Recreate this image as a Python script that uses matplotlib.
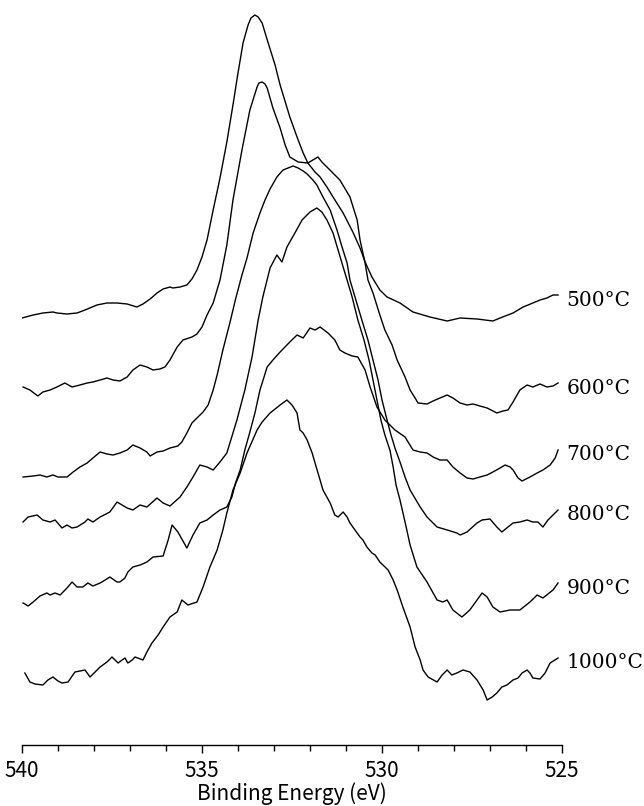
import matplotlib
matplotlib.use("Agg")
import matplotlib.pyplot as plt
from matplotlib.ticker import MultipleLocator
import matplotlib.transforms as mtransforms

# O 1s spectra after annealing, stacked (binding energy in eV, intensity in a.u.)
be_500 = [540.00, 539.69, 539.42, 539.14, 539.03, 538.75, 538.47, 538.25, 537.92, 537.64,
          537.36, 537.08, 536.81, 536.64, 536.44, 536.25, 536.08, 535.89, 535.81, 535.61,
          535.42, 535.28, 535.14, 535.00, 534.86, 534.69, 534.50, 534.31, 534.14, 534.00,
          533.86, 533.72, 533.64, 533.53, 533.44, 533.33, 533.17, 532.97, 532.83, 532.56,
          532.36, 532.19, 532.06, 531.86, 531.72, 531.53, 531.36, 531.08, 530.81, 530.61,
          530.47, 530.28, 530.06, 529.86, 529.50, 529.14, 528.67, 528.19, 527.83, 527.36,
          526.92, 526.72, 526.36, 526.08, 525.81, 525.61, 525.42, 525.25, 525.11]
int_500 = [427, 430, 432, 433, 432, 431, 432, 435, 440, 442,
           442, 441, 438, 441, 446, 452, 456, 458, 457, 458,
           460, 466, 475, 488, 505, 535, 567, 603, 640, 672,
           702, 720, 727, 730, 728, 722, 703, 680, 660, 628,
           608, 592, 582, 573, 568, 558, 548, 532, 513, 497,
           483, 468, 455, 448, 442, 433, 428, 424, 427, 426,
           424, 427, 432, 438, 442, 445, 447, 450, 450]

be_600 = [539.97, 539.78, 539.56, 539.42, 539.22, 539.03, 538.81, 538.61, 538.39, 538.19,
          538.03, 537.83, 537.64, 537.47, 537.28, 537.08, 536.92, 536.72, 536.53, 536.36,
          536.17, 536.03, 535.89, 535.69, 535.53, 535.28, 535.14, 535.00, 534.86, 534.69,
          534.50, 534.31, 534.14, 533.89, 533.67, 533.47, 533.42, 533.33, 533.25, 533.19,
          533.03, 532.83, 532.69, 532.56, 532.33, 532.06, 531.92, 531.78, 531.67, 531.53,
          531.17, 530.89, 530.69, 530.61, 530.47, 530.39, 530.25, 530.06, 529.92, 529.72,
          529.58, 529.36, 529.22, 529.08, 529.00, 528.75, 528.58, 528.39, 528.19, 528.03,
          527.83, 527.64, 527.47, 527.28, 527.08, 526.81, 526.64, 526.50, 526.36, 526.17,
          525.97, 525.81, 525.61, 525.42, 525.25, 525.11]
int_600 = [358, 355, 349, 353, 355, 358, 362, 358, 360, 362,
           363, 365, 367, 365, 364, 368, 375, 380, 378, 375,
           376, 378, 385, 398, 405, 408, 411, 418, 430, 442,
           465, 500, 545, 595, 635, 658, 662, 663, 661, 657,
           637, 617, 600, 588, 583, 582, 585, 588, 583, 578,
           565, 548, 525, 505, 482, 465, 452, 430, 415, 400,
           385, 368, 355, 347, 342, 341, 344, 347, 350, 347,
           342, 340, 341, 339, 337, 332, 334, 335, 343, 355,
           360, 358, 361, 358, 359, 362]

be_700 = [539.97, 539.83, 539.69, 539.50, 539.31, 539.22, 539.08, 538.94, 538.75, 538.61,
          538.47, 538.31, 538.17, 538.03, 537.83, 537.69, 537.56, 537.36, 537.28, 537.14,
          537.06, 536.92, 536.72, 536.53, 536.36, 536.08, 535.94, 535.83, 535.67, 535.42,
          535.25, 535.06, 534.86, 534.69, 534.50, 534.31, 534.17, 534.06, 533.94, 533.81,
          533.67, 533.53, 533.39, 533.19, 533.03, 532.83, 532.56, 532.36, 532.19, 532.00,
          531.86, 531.72, 531.50, 531.31, 531.17, 531.03, 530.83, 530.67, 530.47, 530.33,
          530.14, 529.92, 529.64, 529.36, 529.14, 528.94, 528.75, 528.58, 528.39, 528.19,
          528.03, 527.83, 527.64, 527.47, 527.28, 527.08, 526.92, 526.72, 526.58, 526.44,
          526.36, 526.22, 526.11, 525.89, 525.69, 525.53, 525.33, 525.19, 525.11]
int_700 = [142, 139, 143, 149, 152, 150, 152, 150, 157, 163,
           158, 158, 162, 159, 162, 165, 168, 163, 163, 167,
           173, 178, 180, 183, 188, 189, 205, 220, 213, 197,
           210, 222, 225, 230, 235, 238, 248, 263, 275, 295,
           313, 332, 355, 378, 385, 393, 403, 410, 407, 417,
           415, 418, 412, 405, 395, 392, 389, 388, 375, 358,
           338, 325, 315, 308, 295, 293, 292, 288, 285, 285,
           278, 272, 267, 266, 268, 270, 273, 277, 280, 278,
           275, 267, 264, 268, 272, 275, 280, 287, 295]

be_800 = [539.97, 539.69, 539.50, 539.31, 539.14, 539.00, 538.75, 538.58, 538.39, 538.19,
          538.03, 537.83, 537.64, 537.47, 537.28, 537.08, 536.92, 536.72, 536.53, 536.44,
          536.25, 536.08, 535.89, 535.67, 535.56, 535.42, 535.28, 535.14, 534.97, 534.83,
          534.69, 534.58, 534.42, 534.22, 534.06, 533.89, 533.75, 533.58, 533.39, 533.25,
          533.11, 532.92, 532.75, 532.61, 532.47, 532.33, 532.19, 532.08, 531.92, 531.81,
          531.64, 531.44, 531.25, 531.11, 530.97, 530.89, 530.75, 530.56, 530.39, 530.25,
          530.11, 530.00, 529.86, 529.75, 529.64, 529.50, 529.36, 529.22, 528.94, 528.75,
          528.47, 528.19, 527.92, 527.83, 527.64, 527.36, 527.22, 527.00, 526.81, 526.67,
          526.50, 526.36, 526.17, 525.97, 525.81, 525.67, 525.53, 525.39, 525.25, 525.11]
int_800 = [268, 269, 270, 268, 270, 268, 268, 273, 278, 282,
           287, 293, 291, 290, 292, 295, 300, 297, 293, 289,
           293, 294, 297, 299, 303, 312, 322, 327, 333, 340,
           355, 370, 395, 423, 447, 470, 487, 512, 532, 545,
           556, 568, 575, 577, 579, 577, 574, 571, 565, 560,
           548, 535, 515, 498, 482, 465, 448, 425, 405, 385,
           365, 345, 325, 310, 297, 283, 268, 255, 238, 228,
           218, 215, 212, 210, 213, 222, 225, 226, 218, 213,
           218, 222, 223, 225, 223, 223, 218, 225, 230, 235]

be_900 = [539.97, 539.83, 539.58, 539.42, 539.22, 539.08, 538.89, 538.75, 538.61, 538.47,
          538.25, 538.17, 538.03, 537.83, 537.56, 537.36, 537.22, 537.08, 536.92, 536.72,
          536.53, 536.25, 536.08, 535.89, 535.61, 535.42, 535.25, 535.06, 534.86, 534.69,
          534.50, 534.31, 534.14, 534.03, 533.81, 533.61, 533.44, 533.31, 533.11, 532.92,
          532.78, 532.64, 532.42, 532.22, 532.00, 531.81, 531.67, 531.53, 531.36, 531.22,
          531.08, 530.97, 530.83, 530.67, 530.50, 530.36, 530.25, 530.14, 530.03, 529.92,
          529.78, 529.69, 529.61, 529.50, 529.36, 529.22, 529.03, 528.75, 528.47, 528.31,
          528.19, 528.03, 527.78, 527.56, 527.36, 527.22, 527.08, 526.92, 526.72, 526.44,
          526.17, 525.89, 525.69, 525.53, 525.25, 525.11]
int_900 = [223, 228, 230, 225, 223, 225, 217, 220, 217, 218,
           223, 226, 223, 228, 233, 243, 240, 237, 235, 240,
           238, 247, 242, 239, 248, 258, 268, 280, 278, 275,
           283, 292, 312, 325, 355, 388, 425, 448, 477, 490,
           483, 498, 512, 525, 533, 537, 533, 525, 512, 495,
           478, 465, 448, 425, 405, 385, 365, 345, 325, 310,
           295, 278, 260, 245, 223, 200, 178, 163, 145, 143,
           145, 135, 128, 135, 145, 152, 148, 138, 133, 135,
           135, 143, 150, 147, 155, 162]

be_1000 = [539.92, 539.78, 539.64, 539.42, 539.28, 539.14, 539.00, 538.89, 538.72, 538.53,
           538.39, 538.25, 538.11, 537.97, 537.83, 537.64, 537.50, 537.33, 537.22, 537.14,
           537.06, 536.94, 536.86, 536.64, 536.53, 536.39, 536.22, 536.08, 535.89, 535.69,
           535.56, 535.39, 535.14, 534.97, 534.78, 534.58, 534.42, 534.31, 534.14, 533.94,
           533.75, 533.47, 533.33, 533.11, 532.83, 532.64, 532.50, 532.36, 532.28, 532.19,
           532.08, 531.94, 531.86, 531.72, 531.64, 531.44, 531.31, 531.22, 531.08, 530.97,
           530.89, 530.69, 530.61, 530.53, 530.42, 530.28, 530.19, 530.06, 529.83, 529.69,
           529.58, 529.42, 529.22, 529.08, 528.94, 528.86, 528.72, 528.47, 528.33, 528.19,
           528.06, 527.92, 527.75, 527.56, 527.36, 527.19, 527.08, 526.94, 526.81, 526.67,
           526.53, 526.36, 526.22, 526.11, 525.97, 525.89, 525.81, 525.61, 525.47, 525.33,
           525.11]
int_1000 = [72, 63, 61, 60, 65, 68, 64, 62, 63, 73,
            74, 75, 68, 73, 78, 83, 88, 82, 85, 87,
            82, 85, 88, 85, 93, 102, 110, 118, 128, 133,
            145, 140, 143, 158, 178, 195, 215, 232, 255, 272,
            292, 315, 323, 332, 340, 345, 340, 332, 315, 312,
            305, 292, 282, 265, 255, 242, 230, 228, 233, 228,
            222, 212, 208, 205, 198, 192, 190, 183, 175, 165,
            155, 138, 118, 98, 85, 75, 68, 63, 70, 75,
            70, 72, 75, 73, 65, 55, 45, 48, 52, 58,
            60, 65, 67, 72, 75, 72, 67, 66, 72, 82,
            87]

labels = ["500°C", "600°C", "700°C", "800°C", "900°C", "1000°C"]
energies = [be_500, be_600, be_700, be_800, be_900, be_1000]
spectra = [int_500, int_600, int_700, int_800, int_900, int_1000]

fig = plt.figure(figsize=(6.44, 8.06), dpi=100)
ax = fig.add_axes([22 / 644, 61 / 806, 540 / 644, 745 / 806])

for be, counts in zip(energies, spectra):
    ax.plot(be, counts, color="black", lw=1.0)

# label each spectrum just right of its last point
trans = mtransforms.blended_transform_factory(ax.transAxes, ax.transData)
for lab, counts in zip(labels, spectra):
    ax.text(1.008, counts[-1] - 5, lab, transform=trans, ha="left", va="center",
            fontsize=14.5, family=["DejaVu Serif"])

ax.set_xlim(540, 525)
ax.set_ylim(0, 745)
ax.xaxis.set_major_locator(MultipleLocator(5))
ax.xaxis.set_minor_locator(MultipleLocator(1))
ax.tick_params(axis="x", which="major", direction="out", length=6, width=1, pad=5)
ax.tick_params(axis="x", which="minor", direction="out", length=4, width=1)
ax.set_yticks([])
for side in ["left", "right", "top"]:
    ax.spines[side].set_visible(False)
ax.spines["bottom"].set_linewidth(1.0)

sans = ["Noto Sans CJK JP", "DejaVu Sans"]
for lbl in ax.get_xticklabels():
    lbl.set_family(sans)
    lbl.set_fontsize(15)
ax.set_xlabel("Binding Energy (eV)", family=sans, fontsize=15)
ax.xaxis.label.set_verticalalignment("center")
ax.xaxis.set_label_coords(0.5, -0.066)

fig.savefig("out.png", dpi=100)
